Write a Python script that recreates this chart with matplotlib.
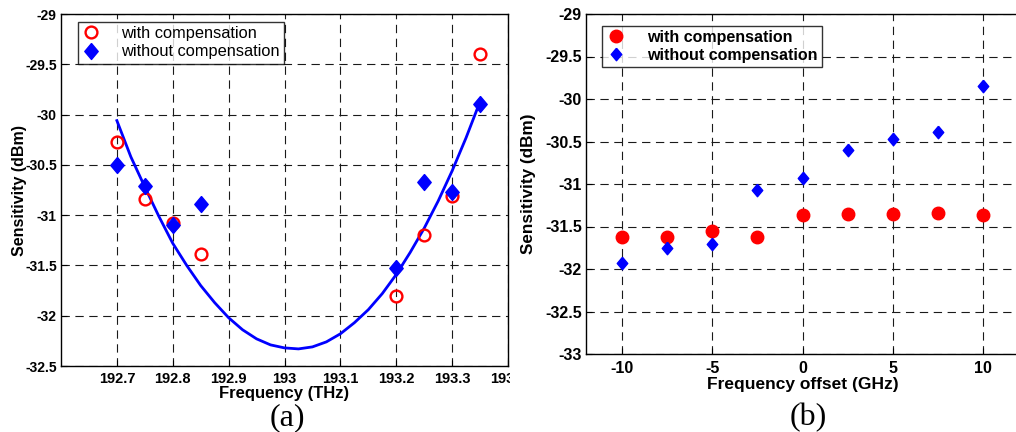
import matplotlib
matplotlib.use("Agg")
import matplotlib.pyplot as plt
from matplotlib.transforms import Bbox, TransformedBbox

# (a) sensitivity vs carrier frequency
freq_thz = [192.70, 192.75, 192.80, 192.85, 193.20, 193.25, 193.30, 193.35]
sens_with_a = [-30.27, -30.84, -31.08, -31.39, -31.80, -31.20, -30.81, -29.40]
sens_without_a = [-30.50, -30.71, -31.10, -30.89, -31.53, -30.67, -30.77, -29.89]

# fitted curve
fit_x = [192.700, 192.725, 192.750, 192.775, 192.800, 192.825, 192.850, 192.875,
         192.900, 192.925, 192.950, 192.975, 193.000, 193.025, 193.050, 193.075,
         193.100, 193.125, 193.150, 193.175, 193.200, 193.225, 193.250, 193.275,
         193.300, 193.325, 193.350]
fit_y = [-30.06, -30.42, -30.72, -31.01, -31.28, -31.50, -31.70, -31.87,
         -32.02, -32.14, -32.23, -32.29, -32.32, -32.33, -32.31, -32.26,
         -32.18, -32.07, -31.94, -31.78, -31.59, -31.37, -31.13, -30.86,
         -30.56, -30.23, -29.87]

xticks_a = [192.7, 192.8, 192.9, 193.0, 193.1, 193.2, 193.3, 193.4]
xtick_labels_a = ["192.7", "192.8", "192.9", "193", "193.1", "193.2", "193.3", "193.4"]
yticks_a = [-32.5, -32, -31.5, -31, -30.5, -30, -29.5, -29]
ytick_labels_a = ["-32.5", "-32", "-31.5", "-31", "-30.5", "-30", "-29.5", "-29"]

# (b) sensitivity vs frequency offset
offset_ghz = [-10, -7.5, -5, -2.5, 0, 2.5, 5, 7.5, 10]
sens_with_b = [-31.62, -31.62, -31.55, -31.62, -31.36, -31.35, -31.35, -31.34, -31.36]
sens_without_b = [-31.93, -31.75, -31.70, -31.07, -30.93, -30.60, -30.47, -30.39, -29.85]

xticks_b = [-10, -5, 0, 5, 10]
xtick_labels_b = ["-10", "-5", "0", "5", "10"]
yticks_b = [-33, -32.5, -32, -31.5, -31, -30.5, -30, -29.5, -29]
ytick_labels_b = ["-33", "-32.5", "-32", "-31.5", "-31", "-30.5", "-30", "-29.5", "-29"]

plt.rcParams["font.family"] = ["Liberation Sans", "DejaVu Sans"]
plt.rcParams["lines.scale_dashes"] = False
plt.rcParams["axes.unicode_minus"] = False

W, H = 1016, 432
fig = plt.figure(figsize=(W / 100, H / 100), dpi=100)

ax1 = fig.add_axes([61 / W, 1 - 366 / H, 447 / W, 352 / H])
ax2 = fig.add_axes([586 / W, 1 - 354 / H, 433 / W, 340 / H])

grid_kw = dict(color="0.1", linestyle=(0, (6, 4)), linewidth=0.8)

# MATLAB-like diamond, a bit taller than wide
diamond = [(0, 1), (0.84, 0), (0, -1), (-0.84, 0), (0, 1)]


def style_axes(ax, xsize, ysize, pad):
    ax.set_axisbelow(True)
    ax.grid(True, **grid_kw)
    for sp in ax.spines.values():
        sp.set_linewidth(1.0)
        sp.set_color("black")
    ax.tick_params(direction="in", length=4, width=0.8, top=False, right=False, pad=3)
    ax.tick_params(axis="x", pad=pad)
    for lbl in ax.get_xticklabels():
        lbl.set_fontweight("bold")
        lbl.set_fontsize(xsize)
    for lbl in ax.get_yticklabels():
        lbl.set_fontweight("bold")
        lbl.set_fontsize(ysize)


# ---- (a)
ax1.plot(fit_x, fit_y, color="#0000ff", linewidth=2.0, zorder=2)
ax1.plot(freq_thz, sens_with_a, linestyle="none", marker="o", markersize=8.5,
         markerfacecolor="none", markeredgecolor="#ff0000", markeredgewidth=1.7,
         label="with compensation", zorder=3)
ax1.plot(freq_thz, sens_without_a, linestyle="none", marker=diamond, markersize=11.5,
         markerfacecolor="#0000ff", markeredgecolor="#0000ff",
         label="without compensation", zorder=4)
ax1.set_xlim(192.6, 193.4)
ax1.set_ylim(-32.5, -29)
ax1.set_xticks(xticks_a)
ax1.set_xticklabels(xtick_labels_a)
ax1.set_yticks(yticks_a)
ax1.set_yticklabels(ytick_labels_a)
style_axes(ax1, 10.5, 10, 4)
ax1.set_xlabel("Frequency (THz)", fontsize=12, fontweight="bold")
ax1.set_ylabel("Sensitivity (dBm)", fontsize=11.5, fontweight="bold")
ax1.xaxis.set_label_coords(0.5, -0.058)
ax1.yaxis.set_label_coords(-0.077, 0.5)
leg1 = ax1.legend(loc="upper left", bbox_to_anchor=(0.037, 0.978), borderaxespad=0,
                  fontsize=11.8, frameon=True, fancybox=False, handlelength=1.2,
                  handletextpad=1.2, labelspacing=0.22, borderpad=0.25)
leg1.get_frame().set_edgecolor("black")
leg1.get_frame().set_linewidth(1.0)

# ---- (b)
ax2.plot(offset_ghz, sens_with_b, linestyle="none", marker="o", markersize=9,
         markerfacecolor="#ff0000", markeredgecolor="#ff0000",
         label="with compensation", zorder=3)
ax2.plot(offset_ghz, sens_without_b, linestyle="none", marker=diamond, markersize=9,
         markerfacecolor="#0000ff", markeredgecolor="#0000ff",
         label="without compensation", zorder=4)
ax2.set_xlim(-12, 12)
ax2.set_ylim(-33, -29)
ax2.set_xticks(xticks_b)
ax2.set_xticklabels(xtick_labels_b)
ax2.set_yticks(yticks_b)
ax2.set_yticklabels(ytick_labels_b)
style_axes(ax2, 11.5, 11.5, 5)
ax2.set_xlabel("Frequency offset (GHz)", fontsize=12.5, fontweight="bold")
ax2.set_ylabel("Sensitivity (dBm)", fontsize=12.3, fontweight="bold")
ax2.xaxis.set_label_coords(0.5, -0.068)
ax2.yaxis.set_label_coords(-0.115, 0.5)
leg2 = ax2.legend(loc="upper left", bbox_to_anchor=(0.037, 0.965), borderaxespad=0,
                  prop={"size": 11.5, "weight": "bold"}, frameon=True, fancybox=False,
                  handlelength=1.2, handletextpad=1.4, labelspacing=0.2, borderpad=0.25)
leg2.get_frame().set_edgecolor("black")
leg2.get_frame().set_linewidth(1.0)

# panel captions
fig.text(287 / W, 1 - 418 / H, "(a)", ha="center", va="center", fontsize=23,
         family=["Liberation Serif", "DejaVu Serif"])
fig.text(808 / W, 1 - 418 / H, "(b)", ha="center", va="center", fontsize=23,
         family=["Liberation Serif", "DejaVu Serif"])

# the last tick label of (a) is cut off by panel (b)
fig.canvas.draw()
clip = TransformedBbox(Bbox([[0, 0], [510 / W, 1]]), fig.transFigure)
last = ax1.xaxis.get_major_ticks()[-1].label1
last.set_clip_on(True)
last.set_clip_box(clip)

fig.savefig("out.png", dpi=100)
